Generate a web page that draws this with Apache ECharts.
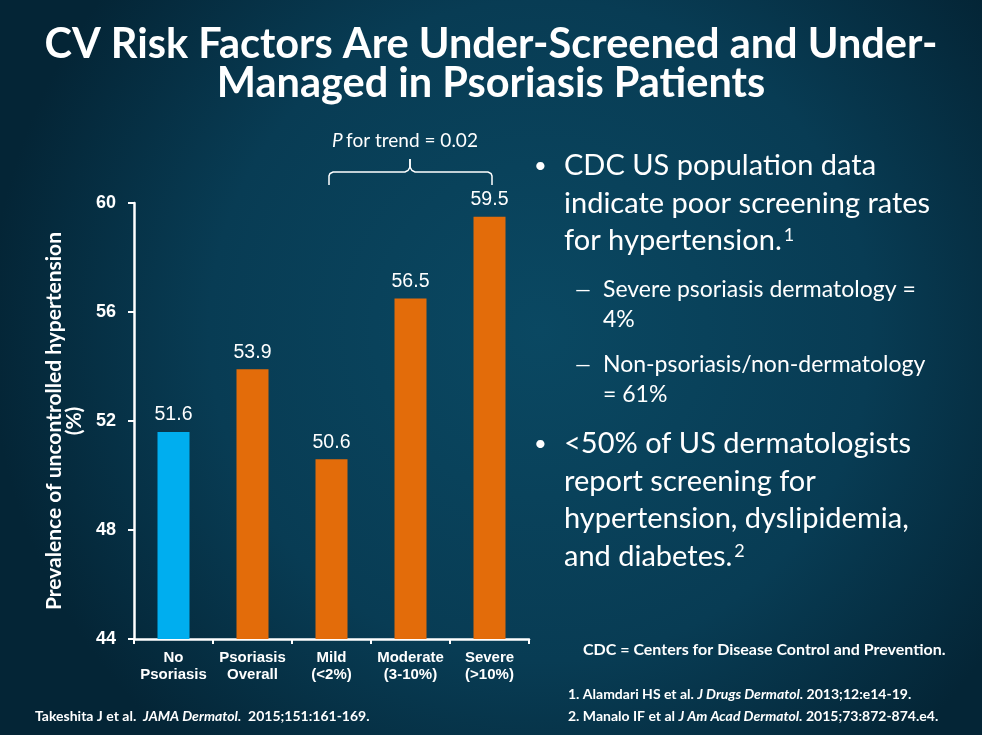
<!DOCTYPE html>
<html>
<head>
<meta charset="utf-8">
<script src="https://cdn.jsdelivr.net/npm/echarts@6/dist/echarts.min.js"></script>
<style>
html,body{margin:0;padding:0;width:982px;height:735px;overflow:hidden;}
#chart{width:982px;height:735px;}
</style>
</head>
<body>
<div id="chart"></div>
<script>
const categories = ['No\nPsoriasis', 'Psoriasis\nOverall', 'Mild\n(<2%)', 'Moderate\n(3-10%)', 'Severe\n(>10%)'];
const values = [51.6, 53.9, 50.6, 56.5, 59.5];
const barColors = ['#00AEEF', '#E36C0A', '#E36C0A', '#E36C0A', '#E36C0A'];
const yTicks = { min: 44, max: 60, interval: 4 };
const titleLines = ['CV Risk Factors Are Under-Screened and Under-', 'Managed in Psoriasis Patients'];
const yAxisName = 'Prevalence of uncontrolled hypertension\n(%)';
const trendText = 'for trend = 0.02';

const CAL = 'Lato, "Open Sans", sans-serif';
const ARI = '"Liberation Sans", Arial, sans-serif';

const chart = echarts.init(document.getElementById('chart'), null, { renderer: 'canvas' });

// y is the vertical centre of the text line
function txt(x, y, text, size, opts) {
  opts = opts || {};
  return {
    type: 'text', x: x, y: y, silent: true,
    style: {
      text: text, fill: '#fff', fontFamily: CAL, fontSize: size,
      fontWeight: opts.bold ? 'bold' : 'normal',
      fontStyle: opts.italic ? 'italic' : 'normal',
      align: opts.align || 'left', verticalAlign: 'middle'
    }
  };
}
function supTxt(x, y, text, sup, size) {
  return {
    type: 'text', x: x, y: y, silent: true,
    style: {
      text: '{n|' + text + '}{s|' + sup + '}', verticalAlign: 'middle',
      rich: {
        n: { fontFamily: CAL, fontSize: size, fill: '#fff' },
        s: { fontFamily: CAL, fontSize: Math.round(size * 0.62), fill: '#fff', verticalAlign: 'top', padding: [0, 0, 12, 2] }
      }
    }
  };
}

const graphics = [];
// title
graphics.push(txt(491, 45, titleLines[0], 41.5, { bold: true, align: 'center' }));
graphics.push(txt(491, 84, titleLines[1], 41.5, { bold: true, align: 'center' }));
// trend label
graphics.push({
  type: 'text', x: 405, y: 141, silent: true,
  style: {
    text: '{i|P} {n|' + trendText + '}', align: 'center', verticalAlign: 'middle',
    fill: '#fff',
    rich: {
      i: { fontFamily: CAL, fontSize: 19, fontStyle: 'italic', fill: '#fff' },
      n: { fontFamily: CAL, fontSize: 19, fill: '#fff' }
    }
  }
});
// bracket
graphics.push({
  type: 'polyline', silent: true,
  shape: { points: [[329, 185], [329, 176], [330, 173.5], [333, 172], [405, 172], [408, 170.5], [410, 167], [410, 159]] },
  style: { stroke: '#fff', lineWidth: 1.5, fill: null }
});
graphics.push({
  type: 'polyline', silent: true,
  shape: { points: [[492, 185], [492, 176], [491, 173.5], [488, 172], [415, 172], [412, 170.5], [410, 167], [410, 159]] },
  style: { stroke: '#fff', lineWidth: 1.5, fill: null }
});
// bullets
const MAIN = 29, SUB = 23;
graphics.push(txt(534, 166, '•', 22));
graphics.push(txt(564, 166, 'CDC US population data', MAIN));
graphics.push(txt(564, 204, 'indicate poor screening rates', MAIN));
graphics.push(supTxt(564, 241, 'for hypertension.', '1', MAIN));
const sub = [['Severe psoriasis dermatology =', '4%'], ['Non-psoriasis/non-dermatology', '= 61%']];
const suby = [[290, 320], [365, 395]];
sub.forEach((s, k) => {
  graphics.push(txt(575, suby[k][0], '—', 20));
  s.forEach((t, i) => graphics.push(txt(603, suby[k][i], t, SUB)));
});
graphics.push(txt(534, 444, '•', 22));
graphics.push(txt(564, 444, '<50% of US dermatologists', MAIN));
graphics.push(txt(564, 482, 'report screening for', MAIN));
graphics.push(txt(564, 519, 'hypertension, dyslipidemia,', MAIN));
graphics.push(supTxt(564, 557, 'and diabetes.', '2', MAIN));

graphics.push(txt(583, 650, 'CDC = Centers for Disease Control and Prevention.', 16, { bold: true }));

function ref(x, y, a, it, b, size) {
  return {
    type: 'text', x: x, y: y, silent: true,
    style: {
      text: '{n|' + a + '}{i|' + it + '}{n|' + b + '}', verticalAlign: 'middle',
      rich: {
        n: { fontFamily: CAL, fontSize: size, fontWeight: 'bold', fill: '#fff' },
        i: { fontFamily: CAL, fontSize: size, fontWeight: 'bold', fontStyle: 'italic', fill: '#fff' }
      }
    }
  };
}
graphics.push(ref(568, 694, '1. Alamdari HS et al. ', 'J Drugs Dermatol.', ' 2013;12:e14-19.', 14));
graphics.push(ref(568, 716, '2. Manalo IF et al ', 'J Am Acad Dermatol.', ' 2015;73:872-874.e4.', 14));
graphics.push(ref(35, 716, 'Takeshita J et al.  ', 'JAMA Dermatol.', '  2015;151:161-169.', 14));

const option = {
  animation: false,
  backgroundColor: {
    type: 'radial', x: 0.55, y: 0.45, r: 0.75,
    colorStops: [
      { offset: 0, color: '#0A4862' },
      { offset: 0.6, color: '#083C54' },
      { offset: 1, color: '#042536' }
    ]
  },
  grid: { left: 134, right: 453, top: 203, bottom: 96, containLabel: false },
  xAxis: {
    type: 'category', data: categories,
    axisLine: { lineStyle: { color: '#fff', width: 2.5 } },
    axisTick: { show: true, alignWithLabel: false, length: 5, lineStyle: { color: '#fff', width: 2 } },
    axisLabel: { color: '#fff', fontFamily: ARI, fontWeight: 'bold', fontSize: 15, lineHeight: 17, margin: 10, interval: 0 }
  },
  yAxis: {
    type: 'value', min: yTicks.min, max: yTicks.max, interval: yTicks.interval,
    splitLine: { show: false },
    axisLine: { show: true, lineStyle: { color: '#fff', width: 2.5 } },
    axisTick: { show: true, length: 6, lineStyle: { color: '#fff', width: 2 } },
    axisLabel: { color: '#fff', fontFamily: ARI, fontWeight: 'bold', fontSize: 18, margin: 18 },
    name: yAxisName, nameLocation: 'middle', nameRotate: 90, nameGap: 50,
    nameTextStyle: { color: '#fff', fontFamily: CAL, fontWeight: 'bold', fontSize: 21, lineHeight: 20, align: 'center' }
  },
  series: [{
    type: 'bar', barWidth: 32,
    data: values.map((v, i) => ({ value: v, itemStyle: { color: barColors[i] } })),
    label: { show: true, position: 'top', distance: 7, color: '#fff', fontFamily: ARI, fontSize: 19.5, formatter: p => p.value.toFixed(1) }
  }],
  graphic: graphics
};
chart.setOption(option);
</script>
</body>
</html>
